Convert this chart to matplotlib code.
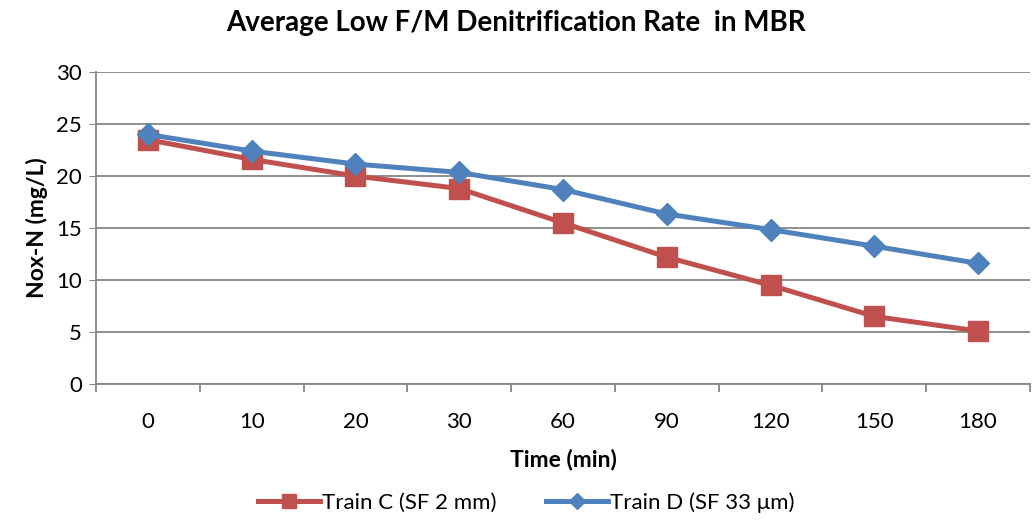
import matplotlib
matplotlib.use("Agg")
import matplotlib.pyplot as plt
import numpy as np

plt.rcParams['font.family'] = ['Lato', 'DejaVu Sans']

# 时间点（分类轴）与两组 NOx-N 浓度
time_labels = ['0', '10', '20', '30', '60', '90', '120', '150', '180']
train_c = [23.5, 21.6, 20.0, 18.8, 15.5, 12.2, 9.5, 6.5, 5.1]
train_d = [24.0, 22.4, 21.15, 20.35, 18.7, 16.35, 14.85, 13.25, 11.6]

red = '#C0504D'
blue = '#4F81BD'
grid_c = '#868686'

fig = plt.figure(figsize=(10.32, 5.2), dpi=100)
ax = fig.add_axes([0.093, 0.2615, 0.905, 0.6])

x = np.arange(len(time_labels))
ax.plot(x, train_c, color=red, linewidth=3.6, marker='s', markersize=14,
        label='Train C (SF 2 mm)')
ax.plot(x, train_d, color=blue, linewidth=3.6, marker='D', markersize=11,
        label='Train D (SF 33 μm)')

ax.set_xlim(-0.5, len(time_labels) - 0.5)
ax.set_ylim(0, 30)
ax.set_yticks(range(0, 31, 5))
ax.set_xticks(x)
ax.set_xticklabels(time_labels)
ax.set_xticks(np.arange(-0.5, len(time_labels), 1), minor=True)

# 横向网格线
ax.grid(axis='y', color=grid_c, linewidth=1.3)
ax.set_axisbelow(True)
for s in ['top', 'right']:
    ax.spines[s].set_visible(False)
ax.spines['left'].set_color(grid_c)
ax.spines['bottom'].set_color(grid_c)
ax.spines['left'].set_linewidth(1.3)
ax.spines['bottom'].set_linewidth(1.3)

ax.tick_params(axis='y', length=5, color=grid_c, labelsize=16, pad=5)
ax.tick_params(axis='x', which='major', length=0, labelsize=16, pad=20)
ax.tick_params(axis='x', which='minor', length=6, color=grid_c, width=1.3)

ax.set_xlabel('Time (min)', fontsize=16.5, fontweight='bold', labelpad=12)
ax.set_ylabel('Nox-N (mg/L)', fontsize=16.5, fontweight='bold', labelpad=6)
fig.suptitle('Average Low F/M Denitrification Rate  in MBR', fontsize=20,
             fontweight='bold', y=0.98, x=0.5)

fig.legend(loc='lower center', ncol=2, frameon=False, fontsize=16,
           bbox_to_anchor=(0.51, -0.025), handlelength=2.8, columnspacing=2.2,
           handletextpad=0.1, markerscale=0.75)

fig.savefig('out.png', dpi=100)
